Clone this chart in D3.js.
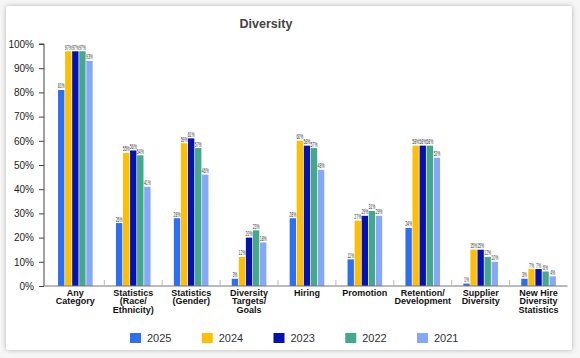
<!DOCTYPE html>
<html><head><meta charset="utf-8">
<script src="https://cdn.jsdelivr.net/npm/d3@7"></script>
<style>
html,body{margin:0;padding:0;background:#fff;}
svg{display:block;font-family:"Liberation Sans",Arial,sans-serif;}
</style></head>
<body>
<svg id="c" width="580" height="358"></svg>
<script>
const categories = [
  ["Any","Category"],
  ["Statistics","(Race/","Ethnicity)"],
  ["Statistics","(Gender)"],
  ["Diversity","Targets/","Goals"],
  ["Hiring"],
  ["Promotion"],
  ["Retention/","Development"],
  ["Supplier","Diversity"],
  ["New Hire","Diversity","Statistics"]
];
const seriesNames = ["2025","2024","2023","2022","2021"];
const seriesColors = ["#2c6ff0","#ffbe00","#0612b0","#44a88c","#87a7fa"];
const v2025 = [81,26,28,3,28,11,24,1,3];
const v2024 = [97,55,59,12,60,27,58,15,7];
const v2023 = [97,56,61,20,58,29,58,15,7];
const v2022 = [97,54,57,23,57,31,58,12,6];
const v2021 = [93,41,46,18,48,29,53,10,4];
const yTicks = [0,10,20,30,40,50,60,70,80,90,100];
const series = [v2025,v2024,v2023,v2022,v2021];

const svg = d3.select("#c");
const defs = svg.append("defs");
const f = defs.append("filter").attr("id","sh").attr("x","-5%").attr("y","-5%").attr("width","110%").attr("height","110%");
f.append("feDropShadow").attr("dx",0).attr("dy",0).attr("stdDeviation",2.5).attr("flood-color","#000").attr("flood-opacity",0.28);

svg.append("rect").attr("x",0).attr("y",0).attr("width",580).attr("height",358).attr("fill","#f6f6f6");
svg.append("rect").attr("x",6).attr("y",6).attr("width",566).attr("height",344).attr("rx",3)
  .attr("fill","#fff").attr("filter","url(#sh)");

svg.append("text").attr("x",266).attr("y",27.5).attr("text-anchor","middle")
  .attr("font-size",12.5).attr("font-weight",600).attr("fill","#444").text("Diversity");

const y = d3.scaleLinear().domain([0,100]).range([286,44]);
const x0 = d3.scaleBand().domain(d3.range(categories.length)).range([46.4,567.5]).paddingInner(0).paddingOuter(0);
const x1 = d3.scaleBand().domain(d3.range(series.length)).range([0,x0.bandwidth()]).paddingInner(0.1).paddingOuter(1.65);

// y axis
const ya = svg.append("g").attr("transform","translate(44,0)")
  .call(d3.axisLeft(y).tickValues(yTicks).tickFormat(d=>d+"%").tickSize(5).tickPadding(5));
ya.select(".domain").attr("stroke","#444").attr("d","M-5,"+y(100)+"H0V"+y(0));
ya.selectAll(".tick line").attr("stroke","#444");
ya.selectAll(".tick text").attr("font-size",10).attr("fill","#222").attr("font-family","Liberation Sans, Arial, sans-serif");

// bars
const g = svg.append("g");
categories.forEach((c,i)=>{
  series.forEach((s,j)=>{
    const bx = x0(i)+x1(j);
    g.append("rect").attr("x",bx).attr("y",y(s[i])).attr("width",x1.bandwidth())
      .attr("height",y(0)-y(s[i])).attr("fill",seriesColors[j]);
    g.append("text")
      .attr("transform","translate("+(bx+x1.bandwidth()/2)+","+(y(s[i])-1.5)+") scale(0.55,1)")
      .attr("text-anchor","middle").attr("font-size",6.3).attr("fill","#333")
      .text(s[i]+"%");
  });
});

// x axis
svg.append("line").attr("x1",44).attr("x2",567.5).attr("y1",286).attr("y2",286).attr("stroke","#777").attr("stroke-width",1);
d3.range(1,categories.length).forEach(i=>{
  svg.append("line").attr("x1",x0(i)).attr("x2",x0(i)).attr("y1",280).attr("y2",286).attr("stroke","#bbb");
});
categories.forEach((c,i)=>{
  const t = svg.append("text").attr("x",x0(i)+x0.bandwidth()/2).attr("y",295.5)
    .attr("text-anchor","middle").attr("font-size",9).attr("font-weight","bold").attr("fill","#111");
  c.forEach((line,k)=>{
    t.append("tspan").attr("x",x0(i)+x0.bandwidth()/2).attr("dy",k===0?0:8.8).text(line);
  });
});

// legend
const legX = d3.scalePoint().domain(seriesNames).range([130,417]);
seriesNames.forEach((n,j)=>{
  svg.append("rect").attr("x",legX(n)).attr("y",333).attr("width",11).attr("height",10).attr("fill",seriesColors[j]);
  svg.append("text").attr("x",legX(n)+17).attr("y",342).attr("font-size",11).attr("fill","#333").text(n);
});
</script>
</body></html>
